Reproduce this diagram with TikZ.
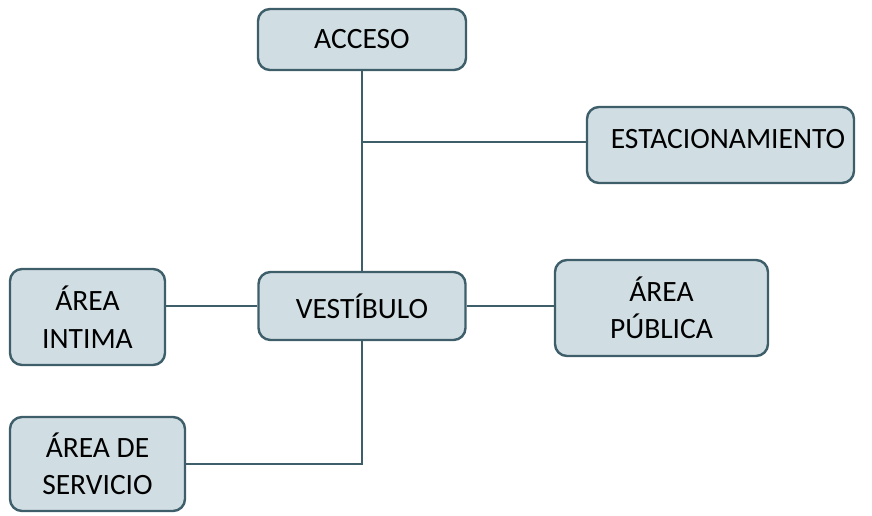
\documentclass[tikz,border=0pt]{standalone}
\usepackage{fontspec}
\setmainfont{Carlito}
\definecolor{bord}{RGB}{62,94,106}
\definecolor{boxfill}{RGB}{208,222,227}
\begin{document}
\begin{tikzpicture}[x=1pt,y=-1pt,
  box/.style={draw=bord, fill=boxfill, line width=2.4pt, rounded corners=12pt,
    inner sep=0pt, align=center, font=\fontsize{29.5}{37.5}\selectfont},
  lbl/.style={inner sep=0pt, align=center, font=\fontsize{29.5}{37.5}\selectfont},
  conn/.style={draw=bord, line width=1.3pt}]
\useasboundingbox (0,0) rectangle (872,515);
\node[box, minimum width=208, minimum height=61] (acc) at (362,39.5) {ACCESO};
\node[box, minimum width=267, minimum height=76] (est) at (720.5,145) {};
\node[lbl] (estl) at (728,139.5) {ESTACIONAMIENTO};
\node[box, minimum width=155, minimum height=96] (int) at (87.5,317) {ÁREA\\INTIMA};
\node[box, minimum width=207, minimum height=68] (ves) at (362,306) {VESTÍBULO};
\node[box, minimum width=213, minimum height=96] (pub) at (661.5,308) {ÁREA\\PÚBLICA};
\node[box, minimum width=175, minimum height=94] (ser) at (97.5,464) {ÁREA DE\\SERVICIO};
\coordinate (j1) at (362,142);
\draw[conn] (acc.south) -- (ves.north);
\draw[conn] (j1) -- (j1 -| est.west);
\draw[conn] (ves.west) -- (ves.west -| int.east);
\draw[conn] (ves.east) -- (ves.east -| pub.west);
\draw[conn] (ves.south) |- (ser.east);
\end{tikzpicture}
\end{document}
